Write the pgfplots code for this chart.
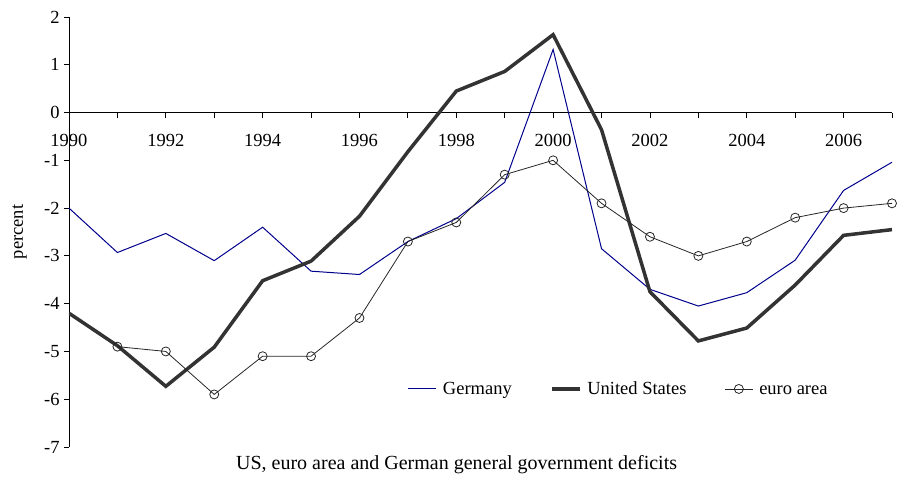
\documentclass[border=0pt]{standalone}
\usepackage{fontspec}
\setmainfont{Liberation Serif}
\usepackage{pgfplots}
\pgfplotsset{compat=1.18}

\definecolor{denavy}{RGB}{0,0,140}
\definecolor{usgray}{RGB}{51,51,51}

\begin{document}
\fontsize{18.5}{21}\selectfont
\begin{tikzpicture}
\begin{axis}[
  name=main,
  scale only axis,
  width=823pt, height=430pt,
  xmin=1990, xmax=2007,
  ymin=-7, ymax=2,
  axis x line*=middle,
  axis y line*=left,
  hide obscured x ticks=false,
  hide obscured y ticks=false,
  tick align=outside,
  major tick length=5pt,
  minor tick length=5pt,
  xtick={1990,1992,...,2006},
  xticklabels={1990,1992,1994,1996,1998,2000,2002,2004,2006},
  minor xtick={1991,1993,...,2007},
  ytick={-7,-6,...,2},
  yticklabels={-7,-6,-5,-4,-3,-2,-1,0,1,2},
  tick style={black, line width=0.8pt},
  axis line style={black, line width=0.8pt},
  xticklabel style={yshift=-10pt},
  yticklabel style={xshift=2pt},
  xlabel={US, euro area and German general government deficits},
  xlabel style={at={(axis description cs:0.471,-0.042)}, anchor=center, font=\fontsize{20}{22}\selectfont},
  ylabel={percent},
  ylabel style={at={(axis description cs:-0.06,0.5)}, anchor=center},
  legend columns=3,
  legend style={draw=none, fill=none, at={(axis description cs:0.668,0.135)}, anchor=center,
    /tikz/every odd column/.append style={column sep=4pt},
    /tikz/every even column/.append style={column sep=36pt}},
  legend image code/.code={%
    \draw[mark repeat=2,mark phase=2] plot coordinates {(0pt,0pt) (14pt,0pt) (28pt,0pt)};},
]
\addplot[denavy, line width=1pt] coordinates {
  (1990,-2.00) (1991,-2.93) (1992,-2.53) (1993,-3.10) (1994,-2.40) (1995,-3.32)
  (1996,-3.39) (1997,-2.70) (1998,-2.22) (1999,-1.46) (2000,1.32) (2001,-2.85)
  (2002,-3.70) (2003,-4.05) (2004,-3.77) (2005,-3.09) (2006,-1.63) (2007,-1.04)};
\addlegendentry{Germany\strut}
\addplot[usgray, line width=3.5pt] coordinates {
  (1990,-4.20) (1991,-4.88) (1992,-5.73) (1993,-4.91) (1994,-3.52) (1995,-3.11)
  (1996,-2.17) (1997,-0.82) (1998,0.45) (1999,0.86) (2000,1.63) (2001,-0.36)
  (2002,-3.75) (2003,-4.78) (2004,-4.51) (2005,-3.61) (2006,-2.57) (2007,-2.45)};
\addlegendentry{United States\strut}
\addplot[black!85, line width=0.8pt, mark=o, mark size=4.5pt,
  mark options={fill=white, line width=0.8pt}] coordinates {
  (1991,-4.9) (1992,-5.0) (1993,-5.9) (1994,-5.1) (1995,-5.1) (1996,-4.3)
  (1997,-2.7) (1998,-2.3) (1999,-1.3) (2000,-1.0) (2001,-1.9) (2002,-2.6)
  (2003,-3.0) (2004,-2.7) (2005,-2.2) (2006,-2.0) (2007,-1.9)};
\addlegendentry{euro area\strut}
\end{axis}
\pgfresetboundingbox
\path (main.south west) ++(-69pt,-32pt) coordinate (bl);
\path (main.north east) ++(7pt,17pt) coordinate (tr);
\path[use as bounding box] (bl) rectangle (tr);
\end{tikzpicture}
\end{document}
